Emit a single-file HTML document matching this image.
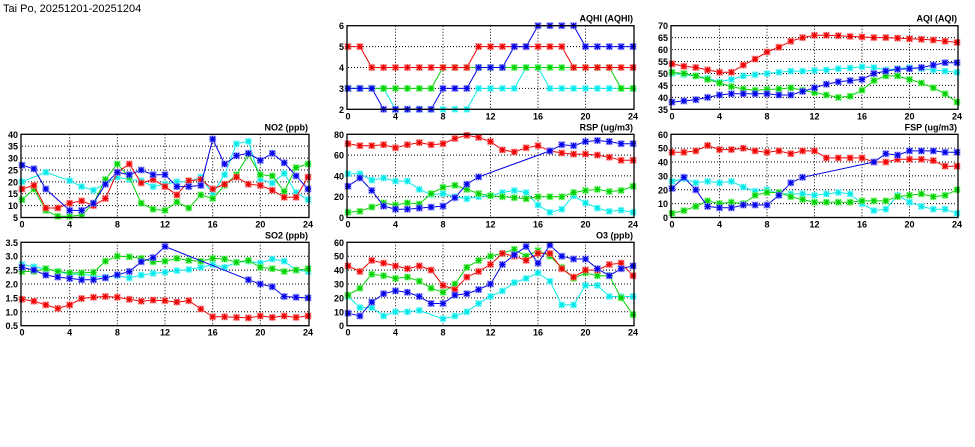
<!DOCTYPE html>
<html><head><meta charset="utf-8">
<style>
html,body{margin:0;padding:0;background:#fff;}
svg{display:block;font-family:"Liberation Sans",sans-serif;}
</style></head>
<body>
<svg id="chart" width="975" height="447" viewBox="0 0 975 447">
<text x="3" y="12" font-size="11" fill="#000">Tai Po, 20251201-20251204</text>
</svg>
<script>
const hours = [0,1,2,3,4,5,6,7,8,9,10,11,12,13,14,15,16,17,18,19,20,21,22,23,24];
const xTicks = [0,4,8,12,16,20,24];
const N = null;

const aqhiTitle = "AQHI (AQHI)";
const aqhiTicks = [2,3,4,5,6];
const aqhiRed = [5,5,4,4,4,4,4,4,4,4,4,5,5,5,5,5,5,5,5,4,4,4,4,4,4];
const aqhiGreen = [3,3,3,3,3,3,3,3,4,4,4,4,4,4,4,4,4,4,4,4,4,4,4,3,3];
const aqhiBlue = [3,3,3,2,2,2,2,2,3,3,3,4,4,4,5,5,6,6,6,6,5,5,5,5,5];
const aqhiCyan = [3,3,3,3,2,2,2,2,2,2,2,3,3,3,3,4,4,3,3,3,3,3,3,3,3];

const aqiTitle = "AQI (AQI)";
const aqiTicks = [35,40,45,50,55,60,65,70];
const aqiRed = [54,53,52.5,51.5,50.5,50.5,53.5,56,59,61,63.5,65,66,66,65.8,65.5,65.3,65,65,64.8,64.5,64.3,64,63.5,63];
const aqiGreen = [50.5,50,49,47.5,46,44.5,43.5,43,43.3,43.5,44,43,42,41,40,40.5,43,47,49,49,47.5,46,44,41.5,38];
const aqiBlue = [38,38.5,39,40,41,41.5,41.5,41.5,41.5,41,41,42.5,44,45.5,46.5,47,47.5,50,51,51.8,52,52.5,53.5,54.5,54.5];
const aqiCyan = [50,49.5,49,48,46.5,47.5,49,49.5,50,50.5,51,51,51.3,51.5,52,52.3,52.8,52.5,51.5,52,52.5,52,51.5,51,50.5];

const no2Title = "NO2 (ppb)";
const no2Ticks = [5,10,15,20,25,30,35,40];
const no2Red = [17,18.5,9,9,11,12,10,13,24,27.5,19.5,21,18,14.5,20.5,21,17,19,22,19,18.5,16.5,13.5,13.5,22];
const no2Green = [12.5,17,8,5.5,5.5,6,11,21,27.5,22,11,8.5,8,11.5,9,14.5,13,18.5,23,31.5,23,22.5,16,26,27.5];
const no2Blue = [27,25.5,17,N,8,8,11,19,24,23,25,23,23,18,18,18.5,38,27.5,31,32,29,32,28,22.5,17];
const no2Cyan = [20,N,24,N,20.5,18,16.5,N,22,21,20.5,18,19,20,20,22,15,23,36,37,21,19.5,23.5,15.5,12.5];

const rspTitle = "RSP (ug/m3)";
const rspTicks = [0,20,40,60,80];
const rspRed = [71,69,69,70,67,70,72,70,71,76,79,77,73,65,63,67,69,64,62,61,61,60,58,55,55];
const rspGreen = [5,6,10,14,12,14,13,23,29,31,27,23,21,20,19,18,20,20,20,24,26,27,25,26,30];
const rspBlue = [30,38,26,11,8,8,9,10,11,19,32,39,N,N,N,N,N,64,70,69,73,74,73,71,71];
const rspCyan = [42,42,36,38,35,35,27,22,23,20,18,20,21,24,26,24,12,5,8,21,14,9,6,7,5];

const fspTitle = "FSP (ug/m3)";
const fspTicks = [0,10,20,30,40,50,60];
const fspRed = [47,47,48,52,49,49,50,48,47,48,46,48,48,43,43,43,43,40,40,42,42,42,41,37,37];
const fspGreen = [3,5,8,12,10,11,10,16,18,18,15,13,11,11,11,11,12,12,12,15,16,17,15,16,20];
const fspBlue = [21,29,20,8,7,7,9,9,9,16,25,29,N,N,N,N,N,40,46,45,48,48,48,47,47];
const fspCyan = [26,28,25,26,25,26,22,19,20,17,17,17,16,17,18,17,10,5,6,16,11,8,6,6,3];

const so2Title = "SO2 (ppb)";
const so2Ticks = [0.5,1.0,1.5,2.0,2.5,3.0,3.5];
const so2Red = [1.45,1.38,1.25,1.12,1.25,1.48,1.52,1.55,1.52,1.45,1.38,1.42,1.4,1.35,1.4,1.1,0.82,0.82,0.8,0.78,0.85,0.8,0.85,0.8,0.85];
const so2Green = [2.45,2.45,2.55,2.45,2.4,2.4,2.42,2.82,3.0,2.98,2.92,2.8,2.82,2.92,2.85,2.82,2.92,2.9,2.78,2.85,2.6,2.55,2.45,2.5,2.55];
const so2Blue = [2.6,2.5,2.32,2.25,2.2,2.15,2.15,2.22,2.33,2.45,2.8,2.95,3.35,N,N,N,N,N,N,2.15,2.0,1.9,1.55,1.52,1.5];
const so2Cyan = [2.7,2.62,2.55,2.45,2.35,2.35,2.3,2.25,2.3,2.22,2.32,2.38,2.42,2.48,2.52,2.6,2.7,2.6,2.78,2.82,2.75,2.9,2.82,2.5,2.45];

const o3Title = "O3 (ppb)";
const o3Ticks = [0,10,20,30,40,50,60];
const o3Red = [43,39,47,45,43,41,43,40,29,26,35,39,44,52,50,47,52,52,41,35,40,40,44,45,36];
const o3Green = [22,27,37,36,34,35,32,27,24,30,42,47,50,52,55,50,54,50,42,34,38,36,36,20,8];
const o3Blue = [9,7,17,23,25,24,21,16,16,22,23,26,30,44,51,57,45,58,50,48,48,41,36,41,43];
const o3Cyan = [21,13,13,7,10,10,11,N,5,7,10,16,21,25,31,34,38,32,15,15,29,29,21,21,21];

const svg = document.getElementById('chart');
const NS = 'http://www.w3.org/2000/svg';
function mk(tag, attrs, parent){
  const e = document.createElementNS(NS, tag);
  for (const k in attrs) e.setAttribute(k, attrs[k]);
  (parent||svg).appendChild(e);
  return e;
}
const COLORS = {red:'#ee0000', green:'#00d000', blue:'#0000e8', cyan:'#00e8e8'};
const LIGHT = {red:'#ff9090', green:'#90ff90', blue:'#9090ff', cyan:'#a0ffff'};

function panel(key, title, ticks, series, x0, x1, yTop, yBot){
  const g = mk('g', {});
  
  
  const yMin = ticks[0], yMax = ticks[ticks.length-1];
  const sx = h => x0 + (h - hours[0]) / (hours[hours.length-1] - hours[0]) * (x1 - x0);
  const sy = v => yBot - (v - yMin) / (yMax - yMin) * (yBot - yTop);
  // grid
  ticks.forEach((t,i) => {
    const y = sy(t);
    if (i>0 && i<ticks.length-1) {
      const l = mk('line', {x1:x0, x2:x1, y1:y, y2:y, stroke:'#000', 'stroke-width':1, 'stroke-dasharray':'1,2'}, g);
      
      
    }
    const lab = mk('text', {x:x0-4, y:y+3.5, 'font-size':9, 'font-weight':'bold', 'text-anchor':'end'}, g);
    lab.textContent = (key==='so2') ? t.toFixed(1) : String(t);
    
    
  });
  xTicks.forEach((t,i) => {
    const x = sx(t);
    if (i>0 && i<xTicks.length-1) {
      const l = mk('line', {x1:x, x2:x, y1:yTop, y2:yBot, stroke:'#000', 'stroke-width':1, 'stroke-dasharray':'1,2'}, g);
      
      
    }
    const lab = mk('text', {x:x, y:yBot+10, 'font-size':9, 'font-weight':'bold', 'text-anchor':'middle'}, g);
    lab.textContent = String(t);
    
    
  });
  const tt = mk('text', {x:x1, y:yTop-4, 'font-size':9, 'font-weight':'bold', 'text-anchor':'end'}, g);
  tt.textContent = title;
  
  
  // series
  series.forEach(s => {
    const pts = [];
    s.vals.forEach((v,i) => { if (v !== null) pts.push([sx(hours[i]), sy(v)]); });
    const pl = mk('polyline', {points: pts.map(p=>p[0].toFixed(1)+','+p[1].toFixed(1)).join(' '), fill:'none', stroke:COLORS[s.c], 'stroke-width':1}, g);
    
    
    pts.forEach(p => {
      const m = mk('g', {transform:'translate('+p[0].toFixed(1)+','+p[1].toFixed(1)+')'}, g);
      
      
      mk('rect', {x:-3.5, y:-3.5, width:7, height:7, fill:LIGHT[s.c], opacity:0.7}, m);
      mk('path', {d:'M-3,0H3M0,-3V3M-2.5,-2.5L2.5,2.5M-2.5,2.5L2.5,-2.5', stroke:COLORS[s.c], 'stroke-width':1.2, fill:'none'}, m);
    });
  });
  const fr = mk('rect', {x:x0-1, y:yTop, width:x1-x0+2, height:yBot-yTop, fill:'none', stroke:'#000', 'stroke-width':1.3}, g);
  
  
}
function S(r,g,b,c){ return [{c:'cyan',vals:c},{c:'green',vals:g},{c:'red',vals:r},{c:'blue',vals:b}]; }

const R1=[25.7,109.3], R2=[134.3,217.5], R3=[242.3,325.7];
const C1=[22,308], C2=[348,633], C3=[672,957];
panel('aqhi', aqhiTitle, aqhiTicks, S(aqhiRed,aqhiGreen,aqhiBlue,aqhiCyan), C2[0],C2[1],R1[0],R1[1]);
panel('aqi', aqiTitle, aqiTicks, S(aqiRed,aqiGreen,aqiBlue,aqiCyan), C3[0],C3[1],R1[0],R1[1]);
panel('no2', no2Title, no2Ticks, S(no2Red,no2Green,no2Blue,no2Cyan), C1[0],C1[1],R2[0],R2[1]);
panel('rsp', rspTitle, rspTicks, S(rspRed,rspGreen,rspBlue,rspCyan), C2[0],C2[1],R2[0],R2[1]);
panel('fsp', fspTitle, fspTicks, S(fspRed,fspGreen,fspBlue,fspCyan), C3[0],C3[1],R2[0],R2[1]);
panel('so2', so2Title, so2Ticks, S(so2Red,so2Green,so2Blue,so2Cyan), C1[0],C1[1],R3[0],R3[1]);
panel('o3', o3Title, o3Ticks, S(o3Red,o3Green,o3Blue,o3Cyan), C2[0],C2[1],R3[0],R3[1]);
</script>
</body></html>
